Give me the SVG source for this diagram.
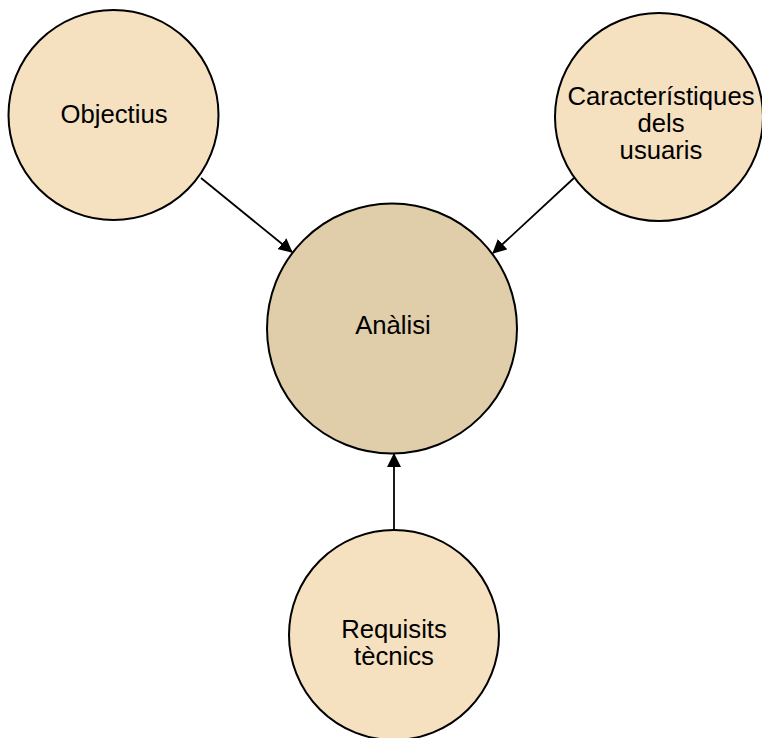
<svg xmlns="http://www.w3.org/2000/svg" width="762" height="738" viewBox="0 0 762 738">
<style>
.n{fill:#F5E0C0;stroke:#000;stroke-width:2}
.c{fill:#E0CEAA;stroke:#000;stroke-width:2}
.t{font-family:"Liberation Sans",Arial,sans-serif;font-size:25.7px;fill:#000;text-anchor:middle}
.e{stroke:#000;stroke-width:1.8;fill:none;marker-end:url(#ah)}
</style>
<defs>
<marker id="ah" markerWidth="14" markerHeight="14" refX="13" refY="7" orient="auto" markerUnits="userSpaceOnUse" viewBox="0 0 14 14">
<path d="M0,0 L14,7 L0,14 Z" fill="#000"/>
</marker>
</defs>
<rect width="762" height="738" fill="#fff"/>
<g id="connectors">
<line class="e" x1="201" y1="178" x2="292" y2="252"/>
<line class="e" x1="574" y1="178" x2="493" y2="253"/>
<line class="e" x1="394" y1="530" x2="394" y2="454"/>
</g>
<g id="objectius">
<circle class="n" cx="113.5" cy="115" r="105"/>
<text class="t" x="114" y="123">Objectius</text>
</g>
<g id="caracteristiques">
<circle class="n" cx="659" cy="117" r="104"/>
<text class="t" x="661" y="105">Característiques</text>
<text class="t" x="661" y="132">dels</text>
<text class="t" x="661" y="159">usuaris</text>
</g>
<g id="analisi">
<circle class="c" cx="392" cy="328.5" r="125"/>
<text class="t" x="393" y="334">Anàlisi</text>
</g>
<g id="requisits">
<circle class="n" cx="394" cy="635" r="105"/>
<text class="t" x="394" y="638">Requisits</text>
<text class="t" x="394" y="665">tècnics</text>
</g>
</svg>
